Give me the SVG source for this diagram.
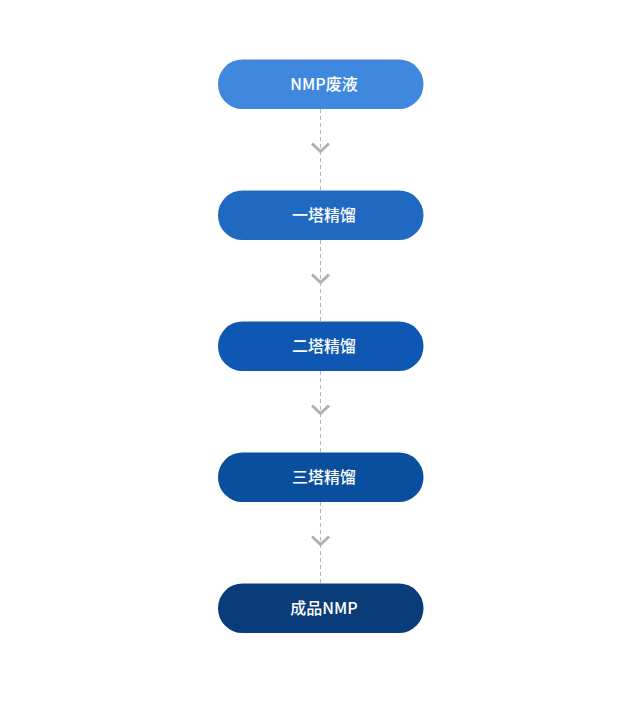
<svg xmlns="http://www.w3.org/2000/svg" width="640" height="709" viewBox="0 0 640 709">
<style>
.node rect{rx:24.5px;ry:24.5px;}
.label{font-family:"Noto Sans CJK SC","Noto Sans",sans-serif;font-size:16px;font-weight:500;fill:#ffffff;text-anchor:middle;}
.dash{stroke:#b4b4b4;stroke-width:1;stroke-dasharray:4 3;fill:none;}
.chev{stroke:#b0b0b0;stroke-width:3;fill:none;stroke-linecap:butt;stroke-linejoin:miter;}
</style>
<rect width="640" height="709" fill="#ffffff"/>
<g id="connectors">
<line class="dash" x1="320.5" y1="109" x2="320.5" y2="190"/>
<polyline class="chev" points="312,143.5 320.5,151.5 329,143.5"/>
<line class="dash" x1="320.5" y1="240" x2="320.5" y2="321"/>
<polyline class="chev" points="312,274.5 320.5,282.5 329,274.5"/>
<line class="dash" x1="320.5" y1="371" x2="320.5" y2="452"/>
<polyline class="chev" points="312,405.5 320.5,413.5 329,405.5"/>
<line class="dash" x1="320.5" y1="502" x2="320.5" y2="583"/>
<polyline class="chev" points="312,536.5 320.5,544.5 329,536.5"/>
</g>
<g id="node1" class="node">
<rect x="218" y="59.5" width="205.5" height="49.5" fill="#4088de"/>
<text class="label" x="324" y="90">NMP废液</text>
</g>
<g id="node2" class="node">
<rect x="218" y="190.5" width="205.5" height="49.5" fill="#1f69c1"/>
<text class="label" x="324" y="221">一塔精馏</text>
</g>
<g id="node3" class="node">
<rect x="218" y="321.5" width="205.5" height="49.5" fill="#0e58b3"/>
<text class="label" x="324" y="352">二塔精馏</text>
</g>
<g id="node4" class="node">
<rect x="218" y="452.5" width="205.5" height="49.5" fill="#0a4e9e"/>
<text class="label" x="324" y="483">三塔精馏</text>
</g>
<g id="node5" class="node">
<rect x="218" y="583.5" width="205.5" height="49.5" fill="#0a3c7a"/>
<text class="label" x="324" y="614">成品NMP</text>
</g>
</svg>
